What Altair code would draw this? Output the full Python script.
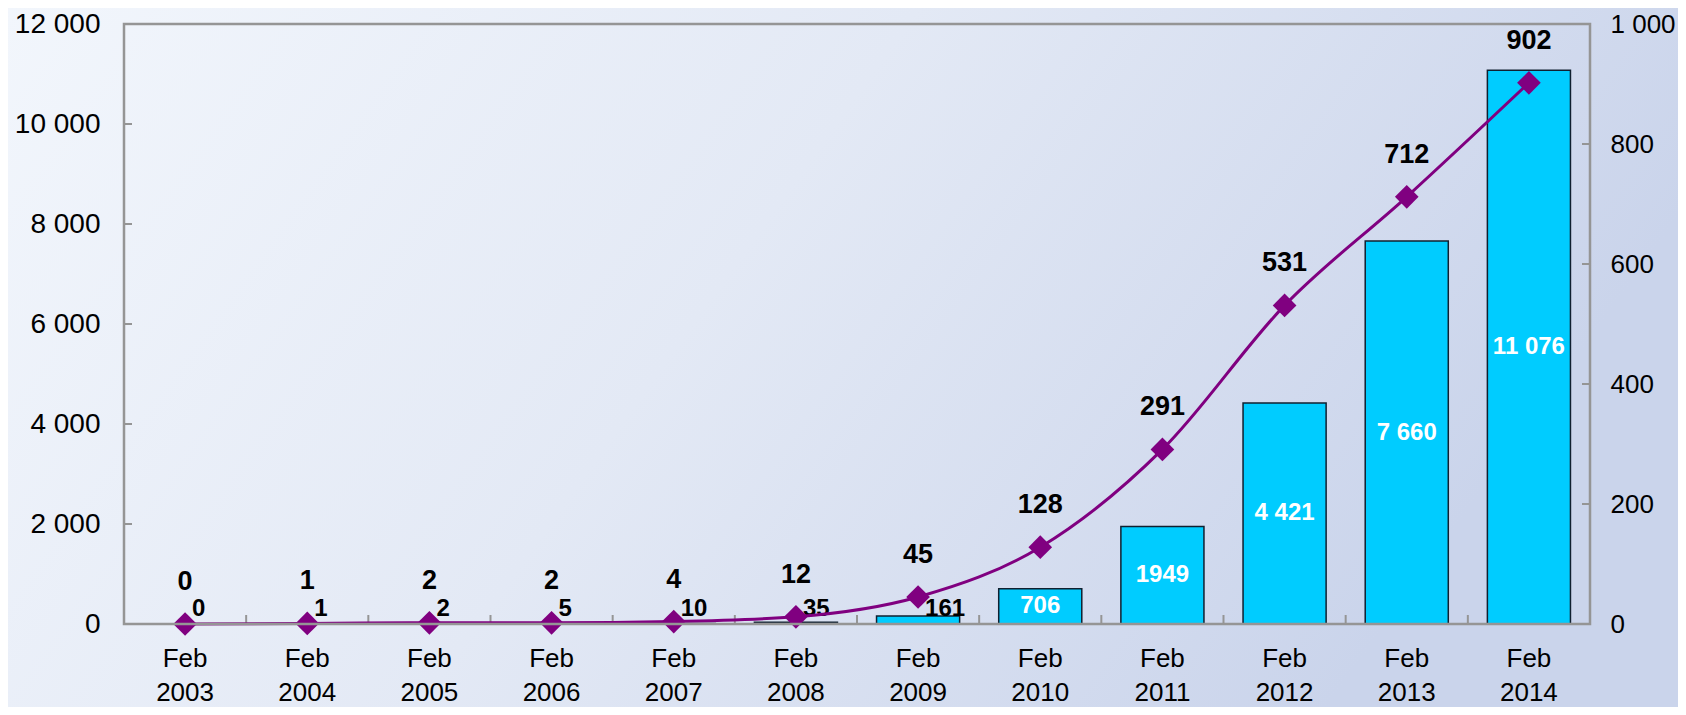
import altair as alt
import pandas as pd

# ---- data ----
categories = ["Feb 2003", "Feb 2004", "Feb 2005", "Feb 2006", "Feb 2007", "Feb 2008",
              "Feb 2009", "Feb 2010", "Feb 2011", "Feb 2012", "Feb 2013", "Feb 2014"]
bar_values = [0, 1, 2, 5, 10, 35, 161, 706, 1949, 4421, 7660, 11076]
bar_labels = ["0", "1", "2", "5", "10", "35", "161", "706", "1949", "4 421", "7 660", "11 076"]
line_values = [0, 1, 2, 2, 4, 12, 45, 128, 291, 531, 712, 902]
left_ticks = [2000, 4000, 6000, 8000, 10000]
right_ticks = [200, 400, 600, 800]

W, H = 1466, 600
PADL, PADT, PADR, PADB = 116, 16, 88, 83
FONT = "Liberation Sans, Arial, Helvetica, sans-serif"
GRAY = "#959595"

df = pd.DataFrame({
    "cat": categories,
    "bar": bar_values,
    "bar_label": bar_labels,
    "line": line_values,
})
df["half"] = df["bar"] / 2
df["inside"] = df["bar"] > 500

xenc = alt.X("cat:N", sort=categories, title=None,
             scale=alt.Scale(paddingInner=0, paddingOuter=0),
             axis=alt.Axis(labelExpr="split(datum.label, ' ')", labelAngle=0,
                           labelFontSize=26, labelFont=FONT, labelColor="#000000",
                           labelLineHeight=34, labelPadding=21, labelBaseline="top",
                           domain=False, ticks=False, tickSize=0, grid=False, zindex=2))
xplain = alt.X("cat:N", sort=categories, title=None)

lscale = alt.Scale(domain=[0, 12000], nice=False, zero=True)
rscale = alt.Scale(domain=[0, 1000], nice=False, zero=True)

# background gradient covering the whole canvas
bg = alt.Chart(pd.DataFrame({"k": [0]})).mark_rect(
    fill={"gradient": "linear", "x1": 0, "y1": 0, "x2": 1, "y2": 0.3,
          "stops": [{"offset": 0, "color": "#f2f6fc"},
                    {"offset": 0.5, "color": "#e3e9f5"},
                    {"offset": 1, "color": "#cad4eb"}]},
).encode(x=alt.value(-PADL), x2=alt.value(W + PADR), y=alt.value(-PADT), y2=alt.value(H + PADB))

base = alt.Chart(df)

bars = base.mark_bar(color="#00ccff", stroke="#102030", strokeWidth=1.5,
                     width={"band": 0.68}).encode(
    x=xenc,
    y=alt.Y("bar:Q", scale=lscale, title=None,
            axis=alt.Axis(values=[0, 2000, 4000, 6000, 8000, 10000, 12000],
                          labelExpr="replace(format(datum.value, ','), ',', ' ')",
                          labelFontSize=28, labelFont=FONT, labelColor="#000000",
                          labelPadding=24, domain=False, ticks=False, tickSize=0,
                          grid=False, orient="left", zindex=2)),
)

inside_labels = base.transform_filter("datum.inside").mark_text(
    color="white", fontWeight="bold", fontSize=24, font=FONT, baseline="middle"
).encode(x=xplain, y=alt.Y("half:Q", scale=lscale), text="bar_label:N")

outside_labels = base.transform_filter("!datum.inside").mark_text(
    color="black", fontWeight="bold", fontSize=24, font=FONT, baseline="middle",
    align="left", dx=7, dy=-15
).encode(x=xplain, y=alt.Y(datum=0, scale=lscale), text="bar_label:N")

lt = alt.Chart(pd.DataFrame({"v": left_ticks})).mark_rule(color=GRAY, strokeWidth=2).encode(
    y=alt.Y("v:Q", scale=lscale), x=alt.value(0), x2=alt.value(8))

xt = alt.Chart(pd.DataFrame({"cat": categories[1:]})).mark_rule(color=GRAY, strokeWidth=2).encode(
    x=alt.X("cat:N", sort=categories, bandPosition=0),
    y=alt.value(H - 9), y2=alt.value(H))

left = alt.layer(bg, bars, inside_labels, outside_labels, lt, xt)

line = base.mark_line(color="#800080", strokeWidth=3, interpolate="monotone").encode(
    x=xplain,
    y=alt.Y("line:Q", scale=rscale, title=None,
            axis=alt.Axis(values=[0, 200, 400, 600, 800, 1000],
                          labelExpr="replace(format(datum.value, ','), ',', ' ')",
                          labelFontSize=26, labelFont=FONT, labelColor="#000000",
                          labelPadding=20, domain=False, ticks=False, tickSize=0,
                          grid=False, orient="right", zindex=2)),
)
pts = base.mark_point(shape="diamond", size=560, filled=True, color="#800080", opacity=1).encode(
    x=xplain, y=alt.Y("line:Q", scale=rscale))
line_labels = base.mark_text(color="black", fontWeight="bold", fontSize=27, font=FONT,
                             baseline="middle", dy=-42).encode(
    x=xplain, y=alt.Y("line:Q", scale=rscale), text="line:Q")
rt = alt.Chart(pd.DataFrame({"v": right_ticks})).mark_rule(color=GRAY, strokeWidth=2).encode(
    y=alt.Y("v:Q", scale=rscale), x=alt.value(W - 8), x2=alt.value(W))
frame = alt.Chart(pd.DataFrame({"k": [0]})).mark_rect(
    fill=None, stroke=GRAY, strokeWidth=2.5
).encode(x=alt.value(0), x2=alt.value(W), y=alt.value(0), y2=alt.value(H))

right = alt.layer(line, pts, line_labels, rt, frame)

chart = alt.layer(left, right).resolve_scale(y="independent").properties(
    width=W, height=H,
    autosize=alt.AutoSizeParams(type="none"),
    padding={"left": PADL, "top": PADT, "right": PADR, "bottom": PADB},
    background="#e3e9f5",
).configure_view(stroke=None)

chart.save("out.html", embed_options={"renderer": "svg", "actions": False})
